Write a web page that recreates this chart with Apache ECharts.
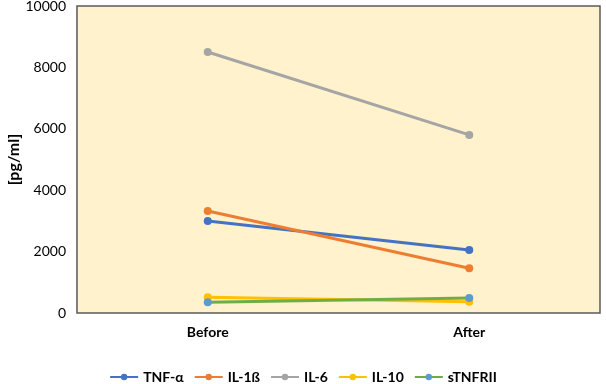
<!DOCTYPE html>
<html><head><meta charset="utf-8">
<script src="https://cdn.jsdelivr.net/npm/echarts@6/dist/echarts.min.js"></script>
<style>html,body{margin:0;padding:0;background:#fff}#c{width:606px;height:384px}</style>
</head><body><div id="c"></div>
<script>
const categories = ["Before", "After"];
const seriesNames = ["TNF-α", "IL-1ß", "IL-6", "IL-10", "sTNFRII"];
const tnfA = [3000, 2050];
const il1b = [3320, 1460];
const il6 = [8500, 5800];
const il10 = [510, 370];
const stnfrii = [350, 490];
const yTicks = [0, 2000, 4000, 6000, 8000, 10000];

const lineColors = ["#4472C4", "#ED7D31", "#A5A5A5", "#FFC000", "#70AD47"];
const markerColors = ["#4472C4", "#ED7D31", "#A5A5A5", "#FFC000", "#5B9BD5"];
const dataSets = [tnfA, il1b, il6, il10, stnfrii];
const font = "Lato, 'Liberation Sans', sans-serif";

const chart = echarts.init(document.getElementById('c'), null, {renderer: 'canvas'});
chart.setOption({
  animation: false,
  textStyle: {fontFamily: font},
  grid: {left: 77, right: 6, top: 6, bottom: 71, containLabel: false, outerBoundsMode: 'none',
         show: true, backgroundColor: '#FFF2CC', borderColor: '#595959', borderWidth: 1.5},
  legend: {
    bottom: 0, left: 'center', padding: 0, itemWidth: 28, itemHeight: 8, itemGap: 10,
    textStyle: {fontFamily: font, fontWeight: 'bold', fontSize: 14, color: '#000'},
    data: seriesNames
  },
  xAxis: {
    type: 'category', data: categories, boundaryGap: true,
    axisLine: {show: false}, axisTick: {show: false},
    axisLabel: {fontFamily: font, fontWeight: 'bold', fontSize: 14, color: '#000', margin: 12}
  },
  yAxis: {
    type: 'value', min: yTicks[0], max: yTicks[yTicks.length - 1], interval: 2000,
    name: '[pg/ml]', nameLocation: 'middle', nameGap: 55, nameRotate: 90, nameMoveOverlap: false,
    nameTextStyle: {fontFamily: font, fontWeight: 'bold', fontSize: 16, color: '#000'},
    axisLine: {show: false}, axisTick: {show: false}, splitLine: {show: false},
    axisLabel: {fontFamily: font, fontSize: 14, color: '#000', margin: 11, formatter: v => String(v)}
  },
  series: seriesNames.map((n, i) => ({
    name: n, type: 'line', data: dataSets[i],
    symbol: 'circle', symbolSize: 8,
    lineStyle: {color: lineColors[i], width: 3},
    itemStyle: {color: markerColors[i]},
    z: 2 + i
  })),
  color: lineColors
});
</script></body></html>
